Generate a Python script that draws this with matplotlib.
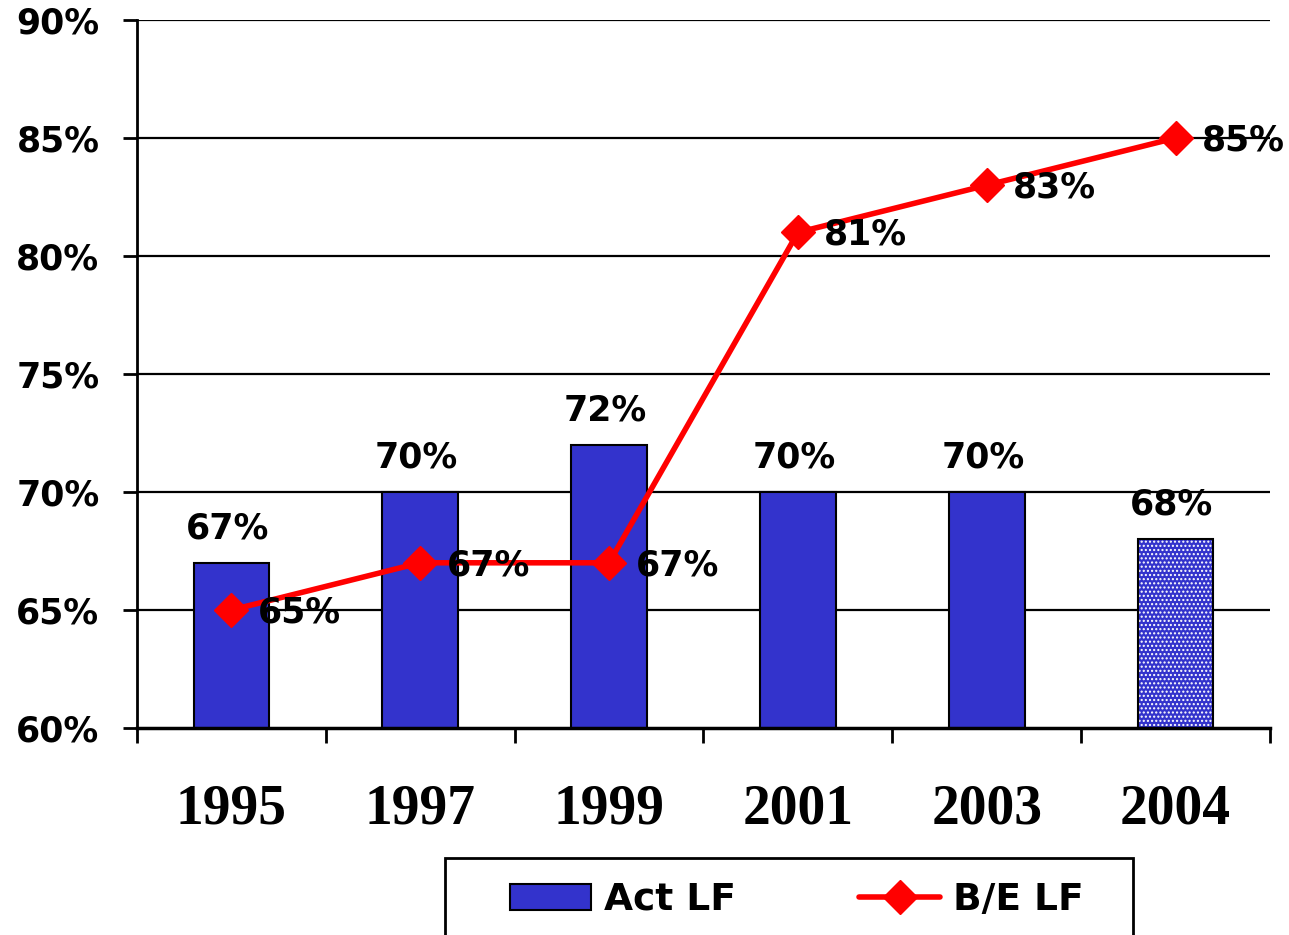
import matplotlib
matplotlib.use("Agg")
import matplotlib.pyplot as plt
from matplotlib.patches import Rectangle
import numpy as np

years = ["1995", "1997", "1999", "2001", "2003", "2004"]
act_lf = [67, 70, 72, 70, 70, 68]
be_lf = [65, 67, 67, 81, 83, 85]
yticks = [60, 65, 70, 75, 80, 85, 90]

bar_color = "#3333CC"
sans = "DejaVu Sans"
serif = "Liberation Serif"

fig = plt.figure(figsize=(12.89, 9.35), dpi=100)
ax = fig.add_axes([137/1289, 1-728/935, (1270-137)/1289, (728-20)/935])

x = np.arange(len(years))
w = 0.40

# solid bars for actuals, last year is a hatched estimate
bars = ax.bar(x[:-1], act_lf[:-1], w, color=bar_color,
              edgecolor="black", linewidth=1.5, zorder=2, label="Act LF")
ax.bar(x[-1:], act_lf[-1:], w, color=bar_color, edgecolor="white",
       hatch="....", linewidth=0, zorder=2)
ax.bar(x[-1:], act_lf[-1:], w, color="none", edgecolor="black",
       linewidth=1.5, zorder=3)

line, = ax.plot(x, be_lf, color="red", lw=4, marker="D", ms=17, mfc="red",
                mec="red", zorder=4, label="B/E LF", solid_capstyle="round")

for xi, v in zip(x, act_lf):
    ax.text(xi - 0.02, v + 0.75, f"{v}%", ha="center", va="bottom",
            fontsize=25, fontweight="bold", family=sans, zorder=5)
for xi, v in zip(x, be_lf):
    ax.text(xi + 0.14, v - 0.1, f"{v}%", ha="left", va="center",
            fontsize=25, fontweight="bold", family=sans, zorder=5)

ax.set_xlim(-0.5, len(years) - 0.5)
ax.set_ylim(60, 90)
ax.set_yticks(yticks)
ax.set_yticklabels([f"{t}%" for t in yticks], fontsize=25,
                   fontweight="bold", family=sans)
for t in yticks[1:]:
    ax.axhline(t, color="black", lw=1.6, zorder=1)

# category ticks at boundaries, labels at centres
ax.set_xticks(np.arange(len(years) + 1) - 0.5)
ax.set_xticklabels([])
ax.set_xticks(x, minor=True)
ax.set_xticklabels(years, minor=True, fontsize=40, fontweight="bold",
                   family=serif)
ax.tick_params(axis="x", which="major", length=11, width=2, direction="out")
ax.tick_params(axis="x", which="minor", length=0, pad=40)
ax.tick_params(axis="y", length=10, width=2, direction="out", pad=17)

for s in ["top", "right"]:
    ax.spines[s].set_visible(False)
ax.spines["left"].set_linewidth(2)
ax.spines["bottom"].set_linewidth(2.5)

# legend box runs off the bottom edge like the original
fig.patches.append(Rectangle((445/1289, -0.05), (1133-445)/1289, 0.05+1-858/935,
                             transform=fig.transFigure, fill=False,
                             edgecolor="black", lw=2))
leg = fig.legend([bars, line], ["Act LF", "B/E LF"], loc="center left",
                 bbox_to_anchor=(510/1289, 1-900/935), ncol=2, frameon=False,
                 prop={"family": sans, "weight": "bold", "size": 27},
                 handlelength=2.15, handleheight=0.7, columnspacing=3.3,
                 handletextpad=0.35, borderpad=0, borderaxespad=0)

fig.savefig("out.png", dpi=100)
